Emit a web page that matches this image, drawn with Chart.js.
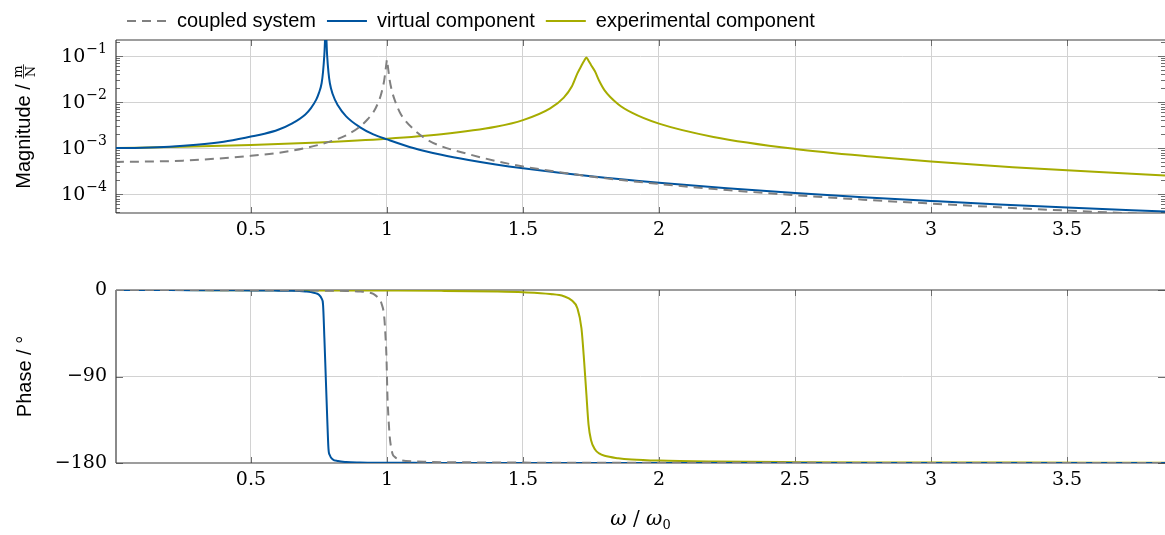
<!DOCTYPE html>
<html>
<head>
<meta charset="utf-8">
<script src="https://cdn.jsdelivr.net/npm/chart.js@4.4.1/dist/chart.umd.min.js"></script>
<style>
  html, body { margin: 0; padding: 0; background: #fff; }
  #wrap { position: relative; width: 1165px; height: 535px; }
  #magChart { position: absolute; left: 0; top: 0; }
  #phaseChart { position: absolute; left: 0; top: 245px; }
</style>
</head>
<body>
<div id="wrap">
  <canvas id="magChart" width="1165" height="245"></canvas>
  <canvas id="phaseChart" width="1165" height="290"></canvas>
</div>
<script>
// ---------------- Data ----------------
const seriesLabels = ['coupled system', 'virtual component', 'experimental component'];

const coupledW = [0, 0.25, 0.5, 0.6, 0.7, 0.8, 0.85, 0.9, 0.93, 0.95, 0.97, 0.98, 0.99, 0.995, 0.998, 1.0, 1.002, 1.005, 1.01, 1.02, 1.03, 1.05, 1.1, 1.15, 1.2, 1.3, 1.4, 1.5, 1.75, 2.0, 2.25, 2.5, 2.75, 3.0, 3.25, 3.5, 3.86];
const coupledMag = [5.0e-4, 5.35e-4, 6.8e-4, 7.9e-4, 1.0e-3, 1.45e-3, 1.9e-3, 2.9e-3, 4.3e-3, 6.0e-3, 1.05e-2, 1.6e-2, 3.0e-2, 5.0e-2, 6.9e-2, 8.3e-2, 6.9e-2, 5.0e-2, 3.0e-2, 1.6e-2, 1.05e-2, 5.6e-3, 2.5e-3, 1.5e-3, 1.1e-3, 7.4e-4, 5.25e-4, 4.0e-4, 2.42e-4, 1.667e-4, 1.231e-4, 9.5e-5, 7.6e-5, 6.25e-5, 5.2e-5, 4.4e-5, 3.6e-5];
const coupledPhase = [0, -0.1, -0.2, -0.3, -0.5, -0.8, -1.0, -1.6, -2.5, -4, -9, -14, -28, -50, -68, -90, -112, -130, -152, -170, -174, -177, -178.4, -178.8, -179.1, -179.3, -179.5, -179.6, -179.7, -179.8, -179.8, -179.85, -179.9, -179.9, -179.9, -179.95, -180];

const virtualW = [0, 0.1, 0.2, 0.3, 0.4, 0.5, 0.55, 0.6, 0.65, 0.7, 0.72, 0.74, 0.75, 0.76, 0.765, 0.77, 0.775, 0.78, 0.785, 0.79, 0.8, 0.82, 0.85, 0.9, 0.95, 1.0, 1.1, 1.2, 1.3, 1.4, 1.5, 1.75, 2.0, 2.25, 2.5, 2.75, 3.0, 3.25, 3.5, 3.86];
const virtualMag = [1.0e-3, 1.02e-3, 1.07e-3, 1.18e-3, 1.38e-3, 1.78e-3, 2.05e-3, 2.5e-3, 3.4e-3, 5.4e-3, 7.3e-3, 1.13e-2, 1.58e-2, 2.6e-2, 4.5e-2, 1.1e-1, 4.0e-1, 1.05e-1, 4.4e-2, 2.6e-2, 1.52e-2, 8.4e-3, 4.9e-3, 2.87e-3, 1.99e-3, 1.55e-3, 9.9e-4, 7.15e-4, 5.5e-4, 4.4e-4, 3.64e-4, 2.44e-4, 1.77e-4, 1.35e-4, 1.06e-4, 8.6e-5, 7.15e-5, 6.0e-5, 5.15e-5, 4.2e-5];
const virtualPhase = [0, -0.05, -0.1, -0.2, -0.3, -0.4, -0.5, -0.7, -0.9, -1.5, -2, -3.5, -5, -9, -15, -50, -90, -130, -165, -172, -176, -178, -179, -179.5, -179.7, -179.8, -179.85, -179.9, -179.9, -179.9, -179.95, -180, -180, -180, -180, -180, -180, -180, -180, -180];

const expW = [0, 0.25, 0.5, 0.75, 1.0, 1.2, 1.4, 1.5, 1.6, 1.65, 1.68, 1.7, 1.715, 1.725, 1.733, 1.741, 1.75, 1.765, 1.78, 1.8, 1.85, 1.9, 2.0, 2.2, 2.5, 2.8, 3.0, 3.3, 3.6, 3.86];
const expMag = [1.0e-3, 1.07e-3, 1.17e-3, 1.33e-3, 1.6e-3, 2.0e-3, 2.9e-3, 4.05e-3, 7.3e-3, 1.25e-2, 2.2e-2, 4.2e-2, 6.2e-2, 7.9e-2, 9.3e-2, 7.9e-2, 6.4e-2, 4.6e-2, 2.9e-2, 1.8e-2, 9.0e-3, 5.9e-3, 3.4e-3, 1.75e-3, 9.6e-4, 6.4e-4, 5.1e-4, 3.85e-4, 3.05e-4, 2.55e-4];
const expPhase = [0, -0.1, -0.2, -0.4, -0.6, -0.9, -1.6, -2.4, -4.2, -6.5, -11, -19, -40, -75, -108, -140, -156, -166, -170, -172.5, -175, -176.3, -177.5, -178.5, -179.1, -179.4, -179.5, -179.6, -179.7, -179.7];

const xMin = 0.004, xMax = 3.86;
const xTickValues = [0.5, 1, 1.5, 2, 2.5, 3, 3.5];
const xTickLabels = ['0.5', '1', '1.5', '2', '2.5', '3', '3.5'];

const magMin = 3.9e-5, magMax = 0.223;
const magTickValues = [1e-4, 1e-3, 1e-2, 1e-1];
const magTickExps = ['\u22124', '\u22123', '\u22122', '\u22121'];

const phaseTickValues = [-180, -90, 0];
const phaseTickLabels = ['\u2212180', '\u221290', '0'];

// ---------------- Styles ----------------
const SANS = '"Liberation Sans", Arial, sans-serif';
const SERIF = '"DejaVu Serif", serif';
const GRID = '#d2d2d2';
const FRAME = '#3c3c3c';
const TICK = '#6e6e6e';
const colors = ['rgb(128,128,128)', 'rgb(0,84,159)', 'rgb(166,172,0)'];
const dashes = [[9, 6], [], []];

// minor log ticks 1..9 x decade, inside the axis range
const magAllTicks = [];
[1e-5, 1e-4, 1e-3, 1e-2, 1e-1].forEach(d => {
    for (let k = 1; k <= 9; k++) { const v = k * d; if (v >= magMin && v <= magMax) magAllTicks.push(v); }
});
const isDecade = v => magTickValues.some(d => Math.abs(v / d - 1) < 1e-6);

function makeSet(i, w, vals) {
    return {
        label: seriesLabels[i],
        data: w.map((x, j) => ({ x, y: vals[j] })),
        borderColor: colors[i], backgroundColor: colors[i],
        borderWidth: 2, borderDash: dashes[i],
        pointRadius: 0, cubicInterpolationMode: 'monotone', fill: false
    };
}

function hLine(ctx, x1, y1, x2, y2) { ctx.beginPath(); ctx.moveTo(x1, y1); ctx.lineTo(x2, y2); ctx.stroke(); }

// frame + inside tick marks (drawn under the curves)
function framePlugin(majorY) {
    return {
        id: 'frame',
        beforeDatasetsDraw(chart) {
            const { ctx, chartArea: a, scales } = chart;
            ctx.save();
            ctx.strokeStyle = TICK; ctx.lineWidth = 1;
            scales.x.ticks.forEach(t => {
                const px = Math.round(scales.x.getPixelForValue(t.value)) + 0.5;
                hLine(ctx, px, a.top, px, a.top + 6);
                hLine(ctx, px, a.bottom, px, a.bottom - 6);
            });
            scales.y.ticks.forEach(t => {
                const py = Math.round(scales.y.getPixelForValue(t.value)) + 0.5;
                const len = majorY(t.value) ? 7 : 4;
                hLine(ctx, a.left, py, a.left + len, py);
                hLine(ctx, a.right, py, a.right - len, py);
            });
            ctx.strokeStyle = FRAME; ctx.lineWidth = 1.2;
            hLine(ctx, a.left, a.top, a.right, a.top);
            hLine(ctx, a.left, a.bottom, a.right, a.bottom);
            hLine(ctx, a.left, a.top, a.left, a.bottom);
            ctx.restore();
        }
    };
}

function xAxis(h) {
    return {
        type: 'linear', min: xMin, max: xMax, bounds: 'data',
        afterBuildTicks: s => { s.ticks = xTickValues.map(v => ({ value: v })); },
        afterFit: s => { s.height = h; },
        grid: { color: GRID, drawTicks: false, lineWidth: 1 },
        border: { display: false },
        ticks: { autoSkip: false, maxRotation: 0, padding: 6, color: '#000', font: { family: SERIF, size: 19 }, callback: (v, i) => xTickLabels[i] }
    };
}

// ---------------- Magnitude ----------------
const magText = {
    id: 'magText',
    afterDraw(chart) {
        const { ctx, chartArea: a, scales } = chart;
        ctx.save();
        ctx.fillStyle = '#000'; ctx.strokeStyle = '#000';
        // decade labels 10^-n
        ctx.textBaseline = 'middle'; ctx.textAlign = 'right';
        magTickValues.forEach((v, i) => {
            const py = scales.y.getPixelForValue(v);
            const right = a.left - 9;
            ctx.font = '14px ' + SERIF;
            const we = ctx.measureText(magTickExps[i]).width;
            ctx.fillText(magTickExps[i], right, py - 7);
            ctx.font = '19px ' + SERIF;
            ctx.fillText('10', right - we - 1, py + 1);
        });
        // rotated axis title with fraction m / N
        ctx.translate(30, (a.top + a.bottom) / 2);
        ctx.rotate(-Math.PI / 2);
        ctx.font = '20px ' + SANS;
        ctx.textBaseline = 'alphabetic'; ctx.textAlign = 'left';
        const head = 'Magnitude / ';
        const w1 = ctx.measureText(head).width;
        ctx.font = '13px ' + SERIF;
        const wf = Math.max(ctx.measureText('m').width, ctx.measureText('N').width) + 2;
        const sx = -(w1 + wf) / 2;
        ctx.font = '20px ' + SANS;
        ctx.fillText(head, sx, 0);
        const fx = sx + w1 + wf / 2;
        ctx.lineWidth = 0.8;
        hLine(ctx, fx - wf / 2, -6.5, fx + wf / 2, -6.5);
        ctx.font = '13px ' + SERIF; ctx.textAlign = 'center';
        ctx.fillText('m', fx, -8.5);
        ctx.fillText('N', fx, 5);
        ctx.restore();
    }
};

const legendHeight = {
    id: 'legendHeight',
    beforeInit(chart) {
        const fit = chart.legend.fit;
        chart.legend.fit = function () { fit.call(this); this.height = 40; };
    }
};

new Chart(document.getElementById('magChart'), {
    type: 'line',
    data: { datasets: [makeSet(0, coupledW, coupledMag), makeSet(1, virtualW, virtualMag), makeSet(2, expW, expMag)] },
    options: {
        responsive: false, animation: false,
        layout: { padding: 0 },
        plugins: {
            legend: {
                position: 'top', align: 'start', fullSize: false,
                labels: {
                    usePointStyle: true, pointStyle: 'line', pointStyleWidth: 40, padding: 11, color: '#000',
                    font: { family: SANS, size: 20 },
                    generateLabels: chart => Chart.defaults.plugins.legend.labels.generateLabels(chart).map((it, i) =>
                        Object.assign(it, { lineDash: dashes[i], lineWidth: 2, strokeStyle: colors[i], fillStyle: colors[i], lineCap: 'butt' }))
                }
            },
            tooltip: { enabled: false }
        },
        scales: {
            x: xAxis(32),
            y: {
                type: 'logarithmic', min: magMin, max: magMax, bounds: 'data',
                afterBuildTicks: s => { s.ticks = magAllTicks.map(v => ({ value: v })); },
                afterFit: s => { s.width = 116; },
                grid: { color: c => (c.tick && isDecade(c.tick.value)) ? GRID : 'rgba(0,0,0,0)', drawTicks: false },
                border: { display: false },
                ticks: { autoSkip: false, padding: 9, font: { family: SERIF, size: 19 }, callback: () => '' }
            }
        }
    },
    plugins: [legendHeight, framePlugin(isDecade), magText]
});

// ---------------- Phase ----------------
const phaseTitles = {
    id: 'phaseTitles',
    afterDraw(chart) {
        const { ctx, chartArea: a } = chart;
        ctx.save();
        ctx.fillStyle = '#000';
        // y title
        ctx.save();
        ctx.translate(31, (a.top + a.bottom) / 2);
        ctx.rotate(-Math.PI / 2);
        ctx.font = '20px ' + SANS; ctx.textAlign = 'center'; ctx.textBaseline = 'alphabetic';
        ctx.fillText('Phase / \u00B0', 0, 0);
        ctx.restore();
        // x title: ω / ω0
        const parts = [
            { t: '\u03C9', f: 'italic 20px ' + SERIF, dy: 0 },
            { t: ' / ', f: '20px ' + SERIF, dy: 0 },
            { t: '\u03C9', f: 'italic 20px ' + SERIF, dy: 0 },
            { t: '0', f: '13px ' + SERIF, dy: 4 }
        ];
        let total = 0;
        parts.forEach(p => { ctx.font = p.f; p.w = ctx.measureText(p.t).width; total += p.w; });
        let x = (a.left + a.right) / 2 - total / 2;
        const base = 280;
        ctx.textAlign = 'left'; ctx.textBaseline = 'alphabetic';
        parts.forEach(p => { ctx.font = p.f; ctx.fillText(p.t, x, base + p.dy); x += p.w; });
        ctx.restore();
    }
};

new Chart(document.getElementById('phaseChart'), {
    type: 'line',
    data: { datasets: [makeSet(0, coupledW, coupledPhase), makeSet(1, virtualW, virtualPhase), makeSet(2, expW, expPhase)] },
    options: {
        responsive: false, animation: false,
        layout: { padding: { top: 45, left: 0, right: 0, bottom: 0 } },
        plugins: { legend: { display: false }, tooltip: { enabled: false } },
        scales: {
            x: xAxis(72),
            y: {
                type: 'linear', min: -180, max: 0, bounds: 'data',
                afterBuildTicks: s => { s.ticks = phaseTickValues.map(v => ({ value: v })); },
                afterFit: s => { s.width = 116; },
                grid: { color: c => (c.tick && c.tick.value === -90) ? GRID : 'rgba(0,0,0,0)', drawTicks: false },
                border: { display: false },
                ticks: { autoSkip: false, padding: 9, color: '#000', font: { family: SERIF, size: 19 }, callback: (v, i) => phaseTickLabels[i] }
            }
        }
    },
    plugins: [framePlugin(() => true), phaseTitles]
});
</script>
</body>
</html>
